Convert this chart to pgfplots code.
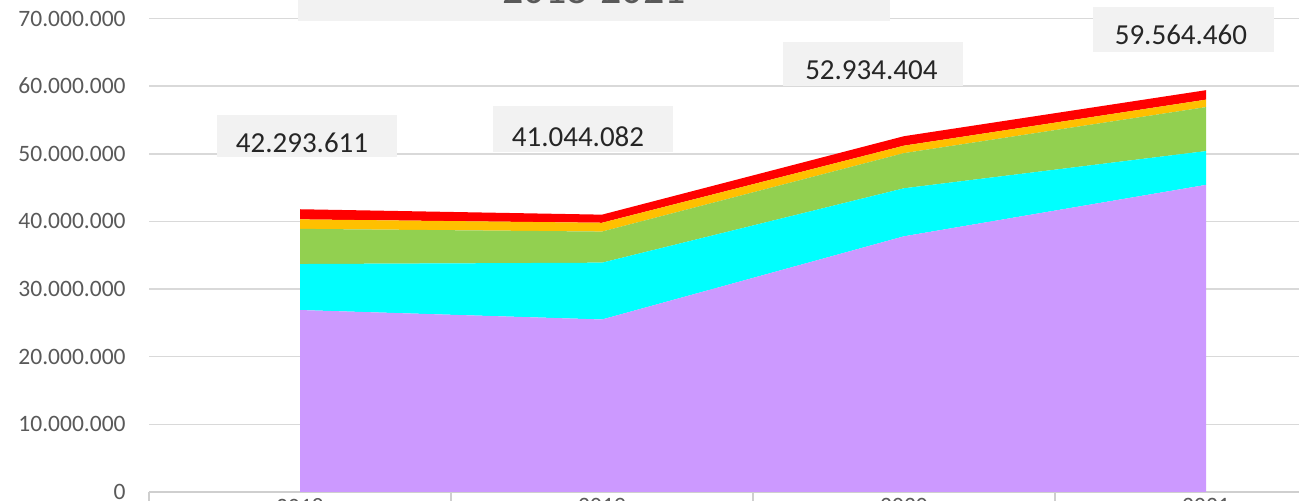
\documentclass[border=0pt]{standalone}
\usepackage{pgfplots}
\pgfplotsset{compat=1.18}
\usepackage{fontspec}
\setmainfont{Carlito}
\definecolor{cpurple}{HTML}{CC99FF}
\definecolor{ccyan}{HTML}{00FFFF}
\definecolor{cgreen}{HTML}{92D050}
\definecolor{corange}{HTML}{FFC000}
\definecolor{cred}{HTML}{FF0000}
\definecolor{gridgray}{HTML}{D9D9D9}
\definecolor{axisgray}{HTML}{CFCFCF}
\definecolor{ticktext}{HTML}{595959}
\definecolor{labelbg}{HTML}{F2F2F2}
\definecolor{labeltext}{HTML}{262626}
\begin{document}
\begin{tikzpicture}
\useasboundingbox (0,0) rectangle (649.5pt,250.5pt);
\clip (0,0) rectangle (649.5pt,250.5pt);
\begin{axis}[
  at={(74.5pt,4.5pt)}, anchor=south west,
  scale only axis, width=604pt, height=236.75pt,
  xmin=-0.5, xmax=3.5, ymin=0, ymax=70,
  stack plots=y,
  axis lines*=left,
  y axis line style={draw=none},
  x axis line style={draw=axisgray, line width=0.75pt},
  ymajorgrids, grid style={gridgray, line width=0.75pt},
  ytick={0,10,20,30,40,50,60,70},
  yticklabels={0,10.000.000,20.000.000,30.000.000,40.000.000,50.000.000,60.000.000,70.000.000},
  xtick={0,1,2,3}, xticklabels={2018,2019,2020,2021},
  major tick length=0pt,
  tick style={draw=none},
  yticklabel style={font=\fontsize{11.75}{13}\selectfont, text=ticktext, inner sep=0pt, xshift=-11.5pt},
  xticklabel style={font=\fontsize{11.75}{13}\selectfont, text=ticktext, inner sep=0pt, yshift=-3pt},
  clip=false,
]
\addplot[fill=cpurple, draw=none] coordinates {(0,26.9) (1,25.5) (2,37.8) (3,45.4)} \closedcycle;
\addplot[fill=ccyan, draw=none] coordinates {(0,6.8) (1,8.4) (2,7.1) (3,5.0)} \closedcycle;
\addplot[fill=cgreen, draw=none] coordinates {(0,5.2) (1,4.6) (2,5.2) (3,6.5)} \closedcycle;
\addplot[fill=corange, draw=none] coordinates {(0,1.4) (1,1.3) (2,1.1) (3,1.1)} \closedcycle;
\addplot[fill=cred, draw=none] coordinates {(0,1.5) (1,1.2) (2,1.4) (3,1.4)} \closedcycle;

\draw[axisgray, line width=0.75pt] (axis cs:-0.5,0) -- (axis cs:-0.5,-1.6);
\draw[axisgray, line width=0.75pt] (axis cs:0.5,0) -- (axis cs:0.5,-1.6);
\draw[axisgray, line width=0.75pt] (axis cs:1.5,0) -- (axis cs:1.5,-1.6);
\draw[axisgray, line width=0.75pt] (axis cs:2.5,0) -- (axis cs:2.5,-1.6);
\draw[axisgray, line width=0.75pt] (axis cs:3.5,0) -- (axis cs:3.5,-1.6);

\coordinate (tA) at (axis cs:-0.0066,69.67);
\coordinate (tB) at (axis cs:1.954,80);
\coordinate (tT) at (axis cs:0.9735,72.19);
\coordinate (a1) at (axis cs:-0.275,55.77);
\coordinate (b1) at (axis cs:0.321,49.56);
\coordinate (c1) at (axis cs:0.0066,50.19);
\coordinate (a2) at (axis cs:0.639,57.0);
\coordinate (b2) at (axis cs:1.235,50.3);
\coordinate (c2) at (axis cs:0.9205,51.08);
\coordinate (a3) at (axis cs:1.599,66.57);
\coordinate (b3) at (axis cs:2.195,60.06);
\coordinate (c3) at (axis cs:1.892,60.95);
\coordinate (a4) at (axis cs:2.626,71.7);
\coordinate (b4) at (axis cs:3.225,65.1);
\coordinate (c4) at (axis cs:2.917,66.1);
\end{axis}
% title box (cropped)
\fill[labelbg] (tA) rectangle (tB);
\node[anchor=base, text=ticktext, font=\fontsize{21}{24}\selectfont, inner sep=0pt] at (tT) {2018-2021};
% data labels
\fill[labelbg] (a1) rectangle (b1);
\node[anchor=base, text=labeltext, font=\fontsize{14.5}{16}\selectfont, inner sep=0pt] at (c1) {42.293.611};
\fill[labelbg] (a2) rectangle (b2);
\node[anchor=base, text=labeltext, font=\fontsize{14.5}{16}\selectfont, inner sep=0pt] at (c2) {41.044.082};
\fill[labelbg] (a3) rectangle (b3);
\node[anchor=base, text=labeltext, font=\fontsize{14.5}{16}\selectfont, inner sep=0pt] at (c3) {52.934.404};
\fill[labelbg] (a4) rectangle (b4);
\node[anchor=base, text=labeltext, font=\fontsize{14.5}{16}\selectfont, inner sep=0pt] at (c4) {59.564.460};
\end{tikzpicture}
\end{document}
